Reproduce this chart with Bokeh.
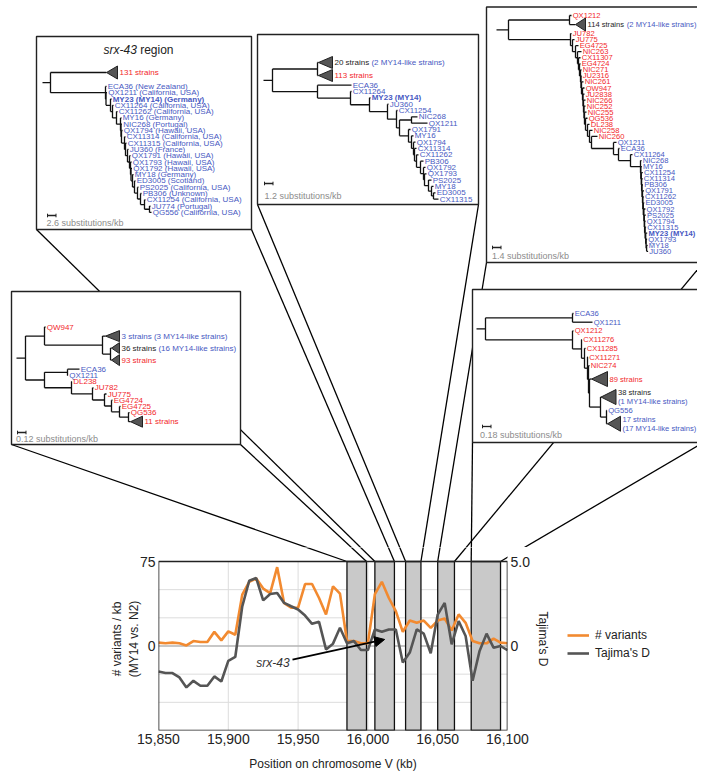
import math
from bokeh.plotting import figure
from bokeh.models import (Range1d, LinearAxis, FixedTicker, NumeralTickFormatter,
                          Legend, LegendItem, Arrow, NormalHead, Label, ColumnDataSource)
from bokeh.layouts import column, row
from bokeh.embed import file_html
from bokeh.resources import INLINE
from bokeh.core.properties import value

# ======================= chart data =======================
position_kb = [15850, 15855, 15860, 15865, 15870, 15875, 15880, 15885, 15890, 15895,
               15900, 15905, 15910, 15915, 15920, 15925, 15930, 15935, 15940, 15945,
               15950, 15955, 15960, 15965, 15970, 15975, 15980, 15985, 15990, 15995,
               16000, 16005, 16010, 16015, 16020, 16025, 16030, 16035, 16040, 16045,
               16050, 16055, 16060, 16065, 16070, 16075, 16080, 16085, 16090, 16095, 16100]
variants_per_kb = [3.0, 2.4, 3.0, 2.4, 0.5, 4.4, 3.5, 3.5, 12.6, 5.0,
                   13.0, 10.0, 45.6, 57.0, 60.0, 51.0, 47.0, 70.0, 38.0, 34.0,
                   34.0, 55.0, 55.0, 42.6, 28.0, 53.0, 46.5, 4.4, 4.4, 2.4,
                   2.4, 46.0, 57.0, 42.6, 31.0, 12.6, 22.6, 20.6, 22.6, 16.0,
                   22.6, 24.4, 13.8, 28.0, 20.6, 4.4, 2.4, 2.4, 6.5, 3.0, 2.4]
tajimas_d = [-1.51, -1.60, -1.60, -1.86, -2.45, -2.06, -2.35, -2.35, -1.80, -2.10,
             -0.88, -0.65, 2.35, 3.86, 4.02, 2.70, 3.08, 3.14, 2.55, 2.35,
             2.16, 1.80, 1.31, 1.43, -0.20, 0.14, 1.08, 0.16, 0.29, -0.24,
             -0.24, 0.98, 0.84, 0.98, 0.98, -0.98, -0.39, 0.98, 0.73, -0.43,
             1.86, 2.55, 0.10, 1.47, 0.59, -2.06, -0.29, 0.73, -0.10, 0.00, -0.25]
region_start_kb = [15985, 16005, 16027, 16050, 16074]
region_end_kb = [15999, 16019, 16038, 16062, 16095]
x_tick_kb = [15850, 15900, 15950, 16000, 16050, 16100]
x_grid_kb = [15900, 15950, 16000, 16050]
y_grid_vals = [-50, -25, 25, 50]
left_ticks = [0, 75]
right_ticks = [0, 5]
right_tick_labels = {5: "5.0", 0: "0"}
series_names = ["# variants", "Tajima's D"]
X_MIN, X_MAX = 15850, 16100
Y_MIN, Y_MAX = -75, 75
T_MIN, T_MAX = -5, 5
srx43_text_at = (15932, -15.5)
srx43_arrow_from = (15946, -12.0)
srx43_arrow_to = (16012, 5.8)

# ======================= tree data =======================
def leaf(name, length, color):
    return ("leaf", name, length, color)

def clade(lines, length, depth):
    return ("clade", lines, length, depth)

def node(length, children):
    return ("node", None, length, children)

def comb(names, steps, tips, color, tail=None):
    n = len(names)
    if tail is None:
        sub = node(steps[n - 2], [leaf(names[n - 2], tips[n - 2], color),
                                  leaf(names[n - 1], tips[n - 1], color)])
        start = n - 3
    else:
        sub = node(steps[n - 1], [leaf(names[n - 1], tips[n - 1], color), tail])
        start = n - 2
    for k in range(start, -1, -1):
        sub = node(steps[k], [leaf(names[k], tips[k], color), sub])
    return sub

bold_leaves = {"MY23 (MY14) (Germany)", "MY23 (MY14)"}

# panel 1: srx-43 region
p1_names = ["ECA36 (New Zealand)", "QX1211 (California, USA)", "MY23 (MY14) (Germany)",
            "CX11264 (California, USA)", "CX11262 (California, USA)", "MY16 (Germany)",
            "NIC268 (Portugal)", "QX1794 (Hawaii, USA)", "CX11314 (California, USA)",
            "CX11315 (California, USA)", "JU360 (France)", "QX1791 (Hawaii, USA)",
            "QX1793 (Hawaii, USA)", "QX1792 (Hawaii, USA)", "MY18 (Germany)",
            "ED3005 (Scotland)", "PS2025 (California, USA)", "PB306 (Unknown)",
            "CX11254 (California, USA)", "JU774 (Portugal)", "QG556 (California, USA)"]
p1_steps = [55, 0.5, 4.5, 2, 4, 4, 0.5, 0.5, 3, 1, 2, 2, 1, 0.5, 1.5, 2, 3, 3, 4, 5]
p1_tips = [1, 1, 1, 1, 1, 1, 1, 1, 1, 1, 1, 1, 1, 1, 1, 1, 1, 1, 1, 1, 2]
tree1 = node(0, [clade([[("131 strains", "r")]], 56, 11),
                 comb(p1_names, p1_steps, p1_tips, "b")])

# panel 2
p2_comb_names = ["QX1791", "MY16", "QX1794", "CX11314", "CX11262", "PB306", "QX1792",
                 "QX1793", "PS2025", "MY18", "ED3005", "CX11315"]
p2_comb_steps = [9, 3, 2, 1, 2, 4, 3, 1, 4, 3, 2]
p2_comb_tips = [2, 2, 2, 2, 2, 3, 2, 2, 3, 2, 2, 5]
p2_top = node(45, [clade([[("20 strains ", "k"), ("(2 MY14-like strains)", "b")]], 1, 14),
                   clade([[("113 strains", "r")]], 1, 14)])
p2_cherry = node(12, [leaf("NIC268", 6, "b"), leaf("QX1211", 16, "b")])
p2_bottom = comb(["ECA36", "CX11264", "MY23 (MY14)", "JU360", "CX11254"],
                 [45, 33, 19, 18, 9], [34, 1, 1, 1, 1], "b",
                 tail=node(3, [p2_cherry, comb(p2_comb_names, p2_comb_steps, p2_comb_tips, "b")]))
tree2 = node(0, [p2_top, p2_bottom])

# panel 3
p3_red_names = ["JU782", "JU775", "EG4725", "NIC263", "CX11307", "EG4724", "NIC271", "JU2316",
                "NIC261", "QW947", "JU2838", "NIC266", "NIC252", "NIC255", "QG536", "DL238",
                "NIC258", "NIC260"]
p3_red_steps = [62, 2, 3, 2, 1, 1, 1, 0.5, 0.5, 1, 0.5, 0.5, 0.5, 0.5, 1, 2, 2, 2]
p3_red_tips = [1, 2, 3, 4, 2, 1, 1, 0.5, 2, 2, 1.5, 2, 1.5, 2, 2, 2, 3, 6]
p3_blue_names = ["NIC268", "MY16", "CX11254", "CX11314", "PB306", "QX1791", "CX11262", "ED3005",
                 "QX1792", "PS2025", "QX1794", "CX11315", "MY23 (MY14)", "QX1793", "MY18", "JU360"]
p3_blue_steps = [10, 0.3, 0.5, 0.3, 0.4, 0.5, 0.3, 0.5, 0.6, 0.4, 0.3, 0.5, 0.6, 0.4, 0.5]
p3_blue_tips = [1, 1, 1.5, 1, 1, 1.5, 1, 1, 1.5, 1.5, 1, 1, 1.5, 1, 1, 1.5]
p3_top = node(61, [leaf("QX1212", 2, "r"),
                   clade([[("114 strains ", "k"), ("(2 MY14-like strains)", "b")]], 6, 10)])
p3_blue = comb(["QX1211", "ECA36", "CX11264"], [22, 5, 12], [3, 1, 2], "b",
               tail=comb(p3_blue_names, p3_blue_steps, p3_blue_tips, "b"))
tree3 = node(0, [p3_top, comb(p3_red_names, p3_red_steps, p3_red_tips, "r", tail=p3_blue)])

# panel 4
p4_upper = node(19, [leaf("QW947", 1, "r"),
                     node(58, [clade([[("3 strains (3 MY14-like strains)", "b")]], 3, 14),
                               node(8, [clade([[("36 strains ", "k"), ("(16 MY14-like strains)", "b")]], 1, 8),
                                        clade([[("93 strains", "r")]], 1, 8)])])])
p4_lower = node(19, [node(23, [leaf("ECA36", 12, "b"), leaf("QX1211", 0.5, "b")]),
                     comb(["DL238", "JU782", "JU775", "EG4724", "EG4725", "QG536"],
                          [27, 21, 12, 7, 8, 9], [0.5, 1, 2, 1, 1, 1], "r",
                          tail=clade([[("11 strains", "r")]], 2, 12))])
tree4 = node(0, [p4_upper, p4_lower])

# panel 5
p5_upper = node(87, [leaf("ECA36", 1, "b"), leaf("QX1211", 20, "b")])
p5_tail = node(1, [clade([[("89 strains", "r")]], 2, 16),
                   node(11, [clade([[("38 strains", "k")], [("(1 MY14-like strains)", "b")]], 0.5, 15),
                             node(6, [leaf("QG556", 0.5, "b"),
                                      clade([[("17 strains", "b")], [("(17 MY14-like strains)", "b")]], 1, 13)])])])
p5_lower = node(87, [leaf("QX1212", 1, "r"),
                     comb(["CX11276", "CX11285", "CX11271", "NIC274"], [9, 3, 3, 1],
                          [0.5, 1, 0.5, 1], "r", tail=p5_tail)])
tree5 = node(0, [p5_upper, p5_lower])

scale_labels = ["2.6 substitutions/kb", "1.2 substitutions/kb", "1.4 substitutions/kb",
                "0.12 substitutions/kb", "0.18 substitutions/kb"]

# ======================= layout / style =======================
FONT = "Liberation Sans"
COL = {"b": "#4759c2", "r": "#f2282c", "k": "#1e1e1e"}
ORANGE, DGRAY = "#f28a30", "#555555"
IMG_X0, IMG_X1 = 1, 698          # picture x of the canvas edges
PAGE_W = IMG_X1 - IMG_X0
TOP_Y0, SEAM = 1, 548            # picture y of the top canvas edges
CHART_L, CHART_R, CHART_T, CHART_B = 159, 508, 562, 731
RIGHT_BORDER = 60                # right panel of the chart (right axis)
LEGEND_ROWS_Y = (636, 654)       # picture y of the legend rows

panels = [
    dict(tree=tree1, box=(37, 252, 37, 230), root_x=51, stem=8, y0=73, leaf_slot=6.3, clade_slot=21.5,
         tri_h=13, bar=(48, 216), bar_text=(47, 223.5), region=1, font=8.0),
    dict(tree=tree2, box=(258, 479, 35, 205), root_x=273, stem=9, y0=63, leaf_slot=6.33, clade_slot=13,
         tri_h=12, bar=(265, 184), bar_text=(265, 196.5), region=2, font=8.0),
    dict(tree=tree3, box=(487, 704, 7.5, 263), root_x=509, stem=12, y0=16, leaf_slot=6.05, clade_slot=12,
         tri_h=13, bar=(493, 248), bar_text=(492.5, 256.5), region=3, font=7.6),
    dict(tree=tree4, box=(12, 241, 292, 445), root_x=26, stem=9, y0=327.5, leaf_slot=6.2, clade_slot=12,
         tri_h=11, bar=(18, 433), bar_text=(16.5, 439.5), region=0, font=8.0),
    dict(tree=tree5, box=(473, 704, 290, 443), root_x=486, stem=9, y0=314, leaf_slot=8.7, clade_slot=18,
         tri_h=15, bar=(483, 427), bar_text=(480.5, 435), region=4, font=7.6),
]

ARIAL_W = {' ': .278, '(': .333, ')': .333, '-': .333, ',': .278, '.': .278, '/': .278,
           'a': .556, 'b': .556, 'c': .5, 'd': .556, 'e': .556, 'g': .556, 'h': .556, 'i': .222,
           'k': .5, 'l': .222, 'm': .833, 'n': .556, 'o': .556, 'r': .333, 's': .5, 't': .278,
           'u': .556, 'v': .5, 'x': .5, 'y': .5, 'M': .833, 'Y': .667}

def text_width(s, size):
    return size * sum(ARIAL_W.get(ch, 0.556) for ch in s)

def px_of_kb(kb):
    return CHART_L + (kb - X_MIN) * (CHART_R - CHART_L) / (X_MAX - X_MIN)

def kb_of_px(px):
    return X_MIN + (px - CHART_L) * (X_MAX - X_MIN) / (CHART_R - CHART_L)

def var_of_py(py):
    return Y_MAX - (py - CHART_T) * (Y_MAX - Y_MIN) / (CHART_B - CHART_T)

def layout_tree(pn):
    segs, texts, tris = [], [], []
    st = {"y": None, "slot": None}
    tri_h = pn["tri_h"]
    fs = pn["font"]

    def next_y(slot):
        if st["y"] is None:
            st["y"] = pn["y0"]
        else:
            st["y"] += (st["slot"] + slot) / 2.0
        st["slot"] = slot
        return st["y"]

    def rec(nd, px):
        kind, payload, length = nd[0], nd[1], nd[2]
        x = px + length
        if kind == "leaf":
            y = next_y(pn["leaf_slot"])
            style = "bold" if payload in bold_leaves else "normal"
            texts.append((x + 1.2, y, payload, COL[nd[3]], style, fs))
        elif kind == "clade":
            y = next_y(pn["clade_slot"])
            d = nd[3]
            tris.append(([x, x + d, x + d], [y, y - tri_h / 2.0, y + tri_h / 2.0]))
            lines = payload
            offs = [0.0] if len(lines) == 1 else [-4.6, 4.6]
            for ln, off in zip(lines, offs):
                cx = x + d + 2
                for seg_text, ck in ln:
                    texts.append((cx, y + off, seg_text, COL[ck], "normal", fs))
                    cx += text_width(seg_text, fs)
        else:
            ys = [rec(c, x) for c in nd[3]]
            y = (ys[0] + ys[-1]) / 2.0
            segs.append((x, ys[0], x, ys[-1]))
        if length > 0:
            segs.append((px, y, x, y))
        return y

    yr = rec(pn["tree"], pn["root_x"])
    segs.append((pn["root_x"] - pn["stem"], yr, pn["root_x"], yr))
    return segs, texts, tris

# ======================= top figure: trees =======================
top = figure(width=PAGE_W, height=SEAM - TOP_Y0, x_range=Range1d(IMG_X0, IMG_X1),
             y_range=Range1d(SEAM, TOP_Y0), x_axis_location=None, y_axis_location=None,
             toolbar_location=None, output_backend="svg", min_border=0, frame_align=False)
top.outline_line_color = None
top.grid.visible = False
top.background_fill_color = "white"

# connectors: panel bottom corners -> region edges on chart top
con = dict(x0=[], y0=[], x1=[], y1=[])
con_kb = dict(x0=[], y0=[], x1=[], y1=[])
for pn in panels:
    l, r, t, b = pn["box"]
    k = pn["region"]
    for cx, edge in ((l, region_start_kb[k]), (r, region_end_kb[k])):
        con["x0"].append(cx); con["y0"].append(b)
        con["x1"].append(px_of_kb(edge)); con["y1"].append(CHART_T)
        con_kb["x0"].append(kb_of_px(cx)); con_kb["y0"].append(var_of_py(b))
        con_kb["x1"].append(edge); con_kb["y1"].append(Y_MAX)
top.segment(x0="x0", y0="y0", x1="x1", y1="y1", source=ColumnDataSource(con),
            line_color="black", line_width=1.3)

top.quad(left=[p["box"][0] for p in panels], right=[p["box"][1] for p in panels],
         top=[p["box"][2] for p in panels], bottom=[p["box"][3] for p in panels],
         fill_color="white", line_color="#222222", line_width=1.4)

all_segs, all_texts, all_tris = [], [], []
for pn in panels:
    s, tx, tr = layout_tree(pn)
    all_segs += s
    all_texts += tx
    all_tris += tr

top.segment(x0=[s[0] for s in all_segs], y0=[s[1] for s in all_segs],
            x1=[s[2] for s in all_segs], y1=[s[3] for s in all_segs],
            line_color="#111111", line_width=1.3)
top.patches(xs=[t[0] for t in all_tris], ys=[t[1] for t in all_tris],
            fill_color="#555555", line_color="#222222", line_width=1)

groups = sorted(set((t[4], t[5]) for t in all_texts))
for style, fs in groups:
    sel = [t for t in all_texts if t[4] == style and t[5] == fs]
    src = ColumnDataSource(dict(x=[t[0] for t in sel], y=[t[1] for t in sel],
                                text=[t[2] for t in sel], color=[t[3] for t in sel]))
    top.text(x="x", y="y", text="text", text_color="color", source=src,
             text_font=value(FONT), text_font_size=value(f"{fs}px"),
             text_font_style=style, text_align="left", text_baseline="middle")

# scale bars
BAR_LEN = 8.5
bx0 = [p["bar"][0] for p in panels]
by = [p["bar"][1] for p in panels]
top.segment(x0=bx0, y0=by, x1=[x + BAR_LEN for x in bx0], y1=by, line_color="#222222", line_width=1.3)
top.segment(x0=bx0 + [x + BAR_LEN for x in bx0], y0=[y - 1.8 for y in by] * 2,
            x1=bx0 + [x + BAR_LEN for x in bx0], y1=[y + 1.8 for y in by] * 2,
            line_color="#222222", line_width=1)
top.text(x=[p["bar_text"][0] for p in panels], y=[p["bar_text"][1] for p in panels],
         text=scale_labels, text_color="#8c8c8c", text_font=value(FONT),
         text_font_size=value("9px"), text_align="left", text_baseline="middle")

# title of panel 1
title_x, title_y = 104, 50
top.text(x=[title_x], y=[title_y], text=["srx-43"], text_font=value(FONT), text_font_size=value("12px"),
         text_font_style="italic", text_color="#222222", text_align="left", text_baseline="middle")
top.text(x=[title_x + text_width("srx-43 ", 12)], y=[title_y], text=["region"], text_font=value(FONT),
         text_font_size=value("12px"), text_color="#222222", text_align="left", text_baseline="middle")

# ======================= bottom figure: chart =======================
y_top = var_of_py(SEAM)
t_top = T_MAX + (CHART_T - SEAM) * (T_MAX - T_MIN) / (CHART_B - CHART_T)

chart = figure(frame_width=CHART_R - CHART_L, frame_height=CHART_B - SEAM,
               x_range=Range1d(X_MIN, X_MAX),
               y_range=Range1d(Y_MIN, y_top), x_axis_location=None, y_axis_location=None,
               toolbar_location=None, output_backend="svg", frame_align=False,
               min_border_left=CHART_L - IMG_X0, min_border_right=RIGHT_BORDER,
               min_border_top=0, min_border_bottom=36)
chart.outline_line_color = None
chart.grid.visible = False
chart.extra_y_ranges = {"taj": Range1d(T_MIN, t_top)}

def style_axis(ax):
    ax.axis_line_color = None
    ax.major_tick_line_color = None
    ax.minor_tick_line_color = None
    ax.major_tick_in = 0
    ax.major_tick_out = 0
    ax.major_label_text_font = FONT
    ax.major_label_text_font_size = "14px"
    ax.major_label_text_color = "#222222"
    ax.major_label_standoff = 3
    ax.axis_label_text_font = FONT
    ax.axis_label_text_font_size = "12px"
    ax.axis_label_text_font_style = "normal"
    ax.axis_label_text_color = "#222222"
    ax.axis_label_standoff = 4

xax = LinearAxis(ticker=FixedTicker(ticks=x_tick_kb), formatter=NumeralTickFormatter(format="0,0"),
                 axis_label="Position on chromosome V (kb)")
style_axis(xax)
xax.axis_label_standoff = 10
chart.add_layout(xax, "below")
lax = LinearAxis(ticker=FixedTicker(ticks=left_ticks), axis_label="# variants / kb\n(MY14 vs. N2)")
style_axis(lax)
lax.axis_label_standoff = -4
chart.add_layout(lax, "left")
rax = LinearAxis(y_range_name="taj", ticker=FixedTicker(ticks=right_ticks),
                 major_label_overrides=right_tick_labels, axis_label="Tajima's D")
style_axis(rax)
rax.axis_label_standoff = 3
chart.add_layout(rax, "right")

# grid
chart.segment(x0=x_grid_kb, y0=[Y_MIN] * len(x_grid_kb), x1=x_grid_kb, y1=[Y_MAX] * len(x_grid_kb),
              line_color="#dcdcdc", line_width=1)
chart.segment(x0=[X_MIN] * len(y_grid_vals), y0=y_grid_vals, x1=[X_MAX] * len(y_grid_vals), y1=y_grid_vals,
              line_color="#dcdcdc", line_width=1)
chart.segment(x0=[X_MIN], y0=[0], x1=[X_MAX], y1=[0], line_color="#b4b4b4", line_width=1.5)

# shaded regions
chart.quad(left=region_start_kb, right=region_end_kb, bottom=[Y_MIN] * 5, top=[Y_MAX] * 5,
           fill_color="#c9c9c9", line_color="#111111", line_width=1.3)

# connectors continuing down to the chart top
chart.segment(x0="x0", y0="y0", x1="x1", y1="y1", source=ColumnDataSource(con_kb),
              line_color="black", line_width=1.3)

r_var = chart.line(position_kb, variants_per_kb, line_color=ORANGE, line_width=2.6)
r_taj = chart.line(position_kb, tajimas_d, y_range_name="taj", line_color=DGRAY, line_width=2.6)

# frame
chart.quad(left=[X_MIN], right=[X_MAX], bottom=[Y_MIN], top=[Y_MAX], fill_color=None,
           line_color="#222222", line_width=1.6)

chart.add_layout(Arrow(end=NormalHead(size=10, fill_color="black", line_color="black", line_width=1),
                       x_start=srx43_arrow_from[0], y_start=srx43_arrow_from[1],
                       x_end=srx43_arrow_to[0], y_end=srx43_arrow_to[1],
                       line_color="black", line_width=1.8))
chart.add_layout(Label(x=srx43_text_at[0], y=srx43_text_at[1], text="srx-43", text_font=FONT,
                       text_font_size="12px", text_font_style="italic", text_color="#333333",
                       text_align="center", text_baseline="middle"))

# ======================= legend figure (right of the chart) =======================
LEG_X0 = CHART_R + RIGHT_BORDER          # picture x where the legend figure starts
leg_fig = figure(width=IMG_X1 - LEG_X0, height=CHART_B - SEAM, x_range=Range1d(0, 1), y_range=Range1d(0, 1),
                 x_axis_location=None, y_axis_location=None, toolbar_location=None,
                 output_backend="svg", min_border=0, frame_align=False)
leg_fig.outline_line_color = None
leg_fig.grid.visible = False
# legend keys: the series' line styles, kept outside the visible range of this key-only figure
g_var = leg_fig.line(x=[5, 6], y=[5, 6], line_color=ORANGE, line_width=2.6)
g_taj = leg_fig.line(x=[5, 6], y=[5, 6], line_color=DGRAY, line_width=2.6)
GLYPH_H, SPACING = 14, 4
leg_bottom_px = LEGEND_ROWS_Y[1] + GLYPH_H / 2.0
legend = Legend(items=[LegendItem(label=series_names[0], renderers=[g_var]),
                       LegendItem(label=series_names[1], renderers=[g_taj])],
                location=(0, CHART_B - leg_bottom_px), border_line_color=None, background_fill_alpha=0,
                label_text_font=FONT, label_text_font_size="12px", label_text_color="#222222",
                glyph_width=22, glyph_height=GLYPH_H, label_height=GLYPH_H, spacing=SPACING,
                padding=0, margin=0, label_standoff=6)
leg_fig.add_layout(legend)

layout = column(top, row(chart, leg_fig, spacing=0), spacing=0)
open("out.html", "w").write(file_html(layout, INLINE))
